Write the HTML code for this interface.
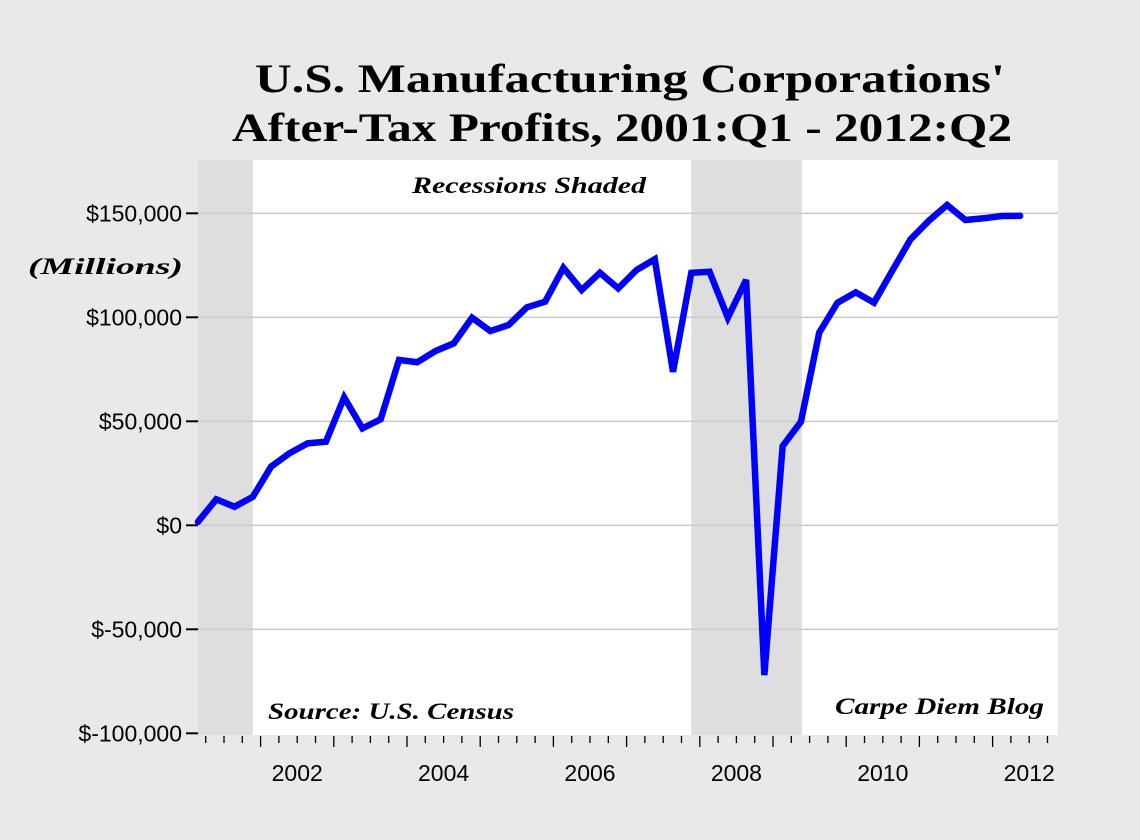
<!DOCTYPE html>
<html><head><meta charset="utf-8"><style>
body{margin:0;background:#e9e9e9;}
svg{display:block;}
</style></head><body>
<svg id="chart" width="1140" height="840" xmlns="http://www.w3.org/2000/svg">
<rect width="1140" height="840" fill="#e9e9e9"/>
<text x="255" y="92" textLength="750" lengthAdjust="spacingAndGlyphs" font-family="Liberation Serif, serif" font-weight="bold" font-size="40" fill="#000">U.S. Manufacturing Corporations'</text>
<text x="232" y="141" textLength="780" lengthAdjust="spacingAndGlyphs" font-family="Liberation Serif, serif" font-weight="bold" font-size="40" fill="#000">After-Tax Profits, 2001:Q1 - 2012:Q2</text>
<g id="plot"></g>
<text x="28" y="274" textLength="155" lengthAdjust="spacingAndGlyphs" font-family="Liberation Serif, serif" font-weight="bold" font-style="italic" font-size="23">(Millions)</text>
<text x="412" y="193" textLength="234" lengthAdjust="spacingAndGlyphs" font-family="Liberation Serif, serif" font-weight="bold" font-style="italic" font-size="23">Recessions Shaded</text>
<text x="268" y="719" textLength="246" lengthAdjust="spacingAndGlyphs" font-family="Liberation Serif, serif" font-weight="bold" font-style="italic" font-size="23">Source: U.S. Census</text>
<text x="835" y="714" textLength="209" lengthAdjust="spacingAndGlyphs" font-family="Liberation Serif, serif" font-weight="bold" font-style="italic" font-size="23">Carpe Diem Blog</text>
</svg>
<script>
const values=[1700,12500,8900,13700,28200,34600,39400,40200,61500,46600,51000,79500,78400,83800,87500,99800,93400,96300,104800,107500,123800,113100,121400,113900,122700,127900,73800,121400,121900,99800,118000,-72000,38100,49800,92600,107000,112000,107000,122400,137500,146400,154000,146800,147600,148700,148800];
const yTicks=[150000,100000,50000,0,-50000,-100000];
const yTickLabels=["$150,000","$100,000","$50,000","$0","$-50,000","$-100,000"];
const years=[2002,2004,2006,2008,2010,2012];
const recessions=[[0,3],[27,33.05]];
const NS="http://www.w3.org/2000/svg";
const L=198,R=1058,T=160,B=735;
const X=i=>L+i*18.27;
const Y=v=>525.3-v/50000*104;
const yearX=y=>260.6+(y-2002)*73.2;
const g=document.getElementById('plot');
function mk(t,a){const e=document.createElementNS(NS,t);for(const k in a)e.setAttribute(k,a[k]);g.appendChild(e);return e;}
let e=mk('rect',{x:L,y:T,width:R-L,height:B-T,fill:'#fff'});


recessions.forEach(r=>{const x0=Math.max(L,X(r[0])),x1=X(r[1]);
const s=mk('rect',{x:x0,y:T,width:x1-x0,height:B-T,fill:'#dedede'});

});
yTicks.forEach((v,i)=>{const y=Y(v);
if(v>-100000){const l=mk('line',{x1:L,x2:R,y1:y,y2:y,stroke:'#c8c8c8','stroke-width':1.3});

}
const t=mk('line',{x1:186,x2:L,y1:y,y2:y,stroke:'#000','stroke-width':2});


const tx=mk('text',{x:182,y:y+8,'text-anchor':'end','font-family':'Liberation Sans, sans-serif','font-size':23});
tx.textContent=yTickLabels[i];

});
for(let k=-3;k<=44;k++){const x=260.6+k*18.3;if(x<L-4||x>R)continue;const major=(k%4===0);
const t=mk('line',{x1:x,x2:x,y1:B+1,y2:B+(major?12:8),stroke:'#000','stroke-width':1.3});

}
years.forEach(yr=>{const tx=mk('text',{x:yearX(yr)+36.6,y:781,'text-anchor':'middle','font-family':'Liberation Sans, sans-serif','font-size':23});
tx.textContent=yr;

});
const p=mk('polyline',{points:values.map((v,i)=>X(i)+','+Y(v)).join(' '),fill:'none',stroke:'#0000ff','stroke-width':6.5,'stroke-linejoin':'miter','stroke-linecap':'round'});


</script>
</body></html>
